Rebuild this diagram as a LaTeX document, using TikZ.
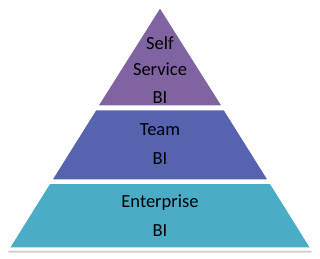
\documentclass[tikz,border=0pt]{standalone}
\usepackage{fontspec}
\setmainfont{Carlito}
\definecolor{toppurple}{HTML}{8064A2}
\definecolor{midblue}{HTML}{5664B0}
\definecolor{baseteal}{HTML}{4BACC6}
\begin{document}
\begin{tikzpicture}[x=1pt,y=1pt,
  layer/.style={draw=white,line width=1.5pt,line join=round},
  lbl/.style={anchor=base,inner sep=0pt,font=\fontsize{18.5}{20}\selectfont,text=black}]
\useasboundingbox[fill=white] (0,0) rectangle (320,258);
% shadow
\fill[black!18] (8,7.5) -- (312,7.5) -- (311,5.5) -- (9,5.5) -- cycle;
% layers
\path[layer,fill=baseteal] (9,10) -- (311,10) -- (270.4,75) -- (49.6,75) -- cycle;
\path[layer,fill=midblue] (51.5,78) -- (268.5,78) -- (224.3,148.5) -- (95.7,148.5) -- cycle;
\path[layer,fill=toppurple] (97.5,152) -- (222.5,152) -- (160,251) -- cycle;
% labels
\node[lbl] (self) at (160,209) {Self};
\node[lbl] (service) at (160,182.5) {Service};
\node[lbl] (bi1) at (160,155) {BI};
\node[lbl] (team) at (160,123) {Team};
\node[lbl] (bi2) at (160,94) {BI};
\node[lbl] (ent) at (160,50.7) {Enterprise};
\node[lbl] (bi3) at (160,22) {BI};
\end{tikzpicture}
\end{document}
